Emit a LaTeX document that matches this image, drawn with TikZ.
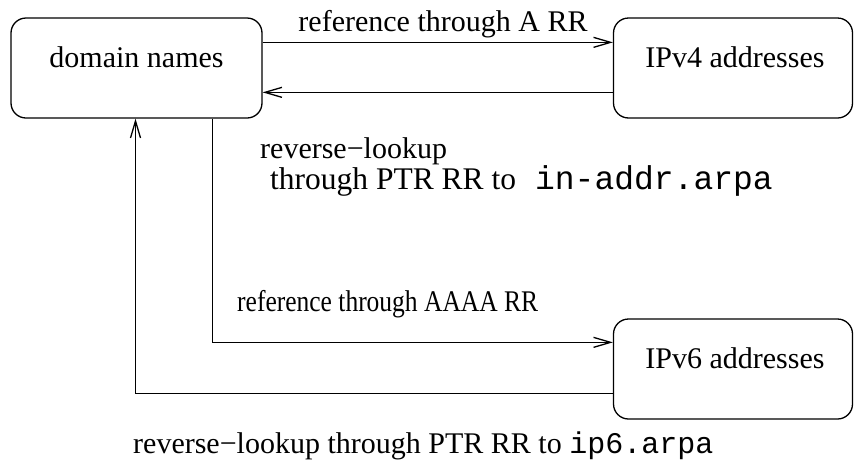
\documentclass[tikz,border=0pt]{standalone}
\usepackage{fontspec}
\setmainfont{Liberation Serif}
\setmonofont{Liberation Mono}
\usetikzlibrary{arrows.meta}

\begin{document}
\begin{tikzpicture}[x=1pt,y=-1pt,
  every node/.style={font=\fontsize{30}{34}\selectfont},
  box/.style={draw, line width=1.3pt, rounded corners=15pt, inner sep=0pt,
              text height=49pt, text depth=51pt},
  link/.style={line width=1.3pt},
  arr/.style={link, -{Straight Barb[length=17pt,width=10pt,line width=1.3pt]}},
  lbl/.style={inner sep=0pt, anchor=base west}]
  \useasboundingbox (0,0) rectangle (854,464);

  % the three kinds of records
  \node[box, minimum width=251pt] (dn) at (136.5,68) {domain names};
  \node[box, minimum width=239pt] (v4) at (733,68) {\hspace*{4pt}IPv4 addresses};
  \node[box, minimum width=239pt] (v6) at (733,369) {\hspace*{4pt}IPv6 addresses};

  % forward and reverse links between names and IPv4
  \draw[arr] ([yshift=-25pt]dn.north east) -- ([yshift=-25pt]v4.north west);
  \draw[arr] ([yshift=-75pt]v4.north west) -- ([yshift=-75pt]dn.north east);

  % forward and reverse links between names and IPv6
  \draw[arr] ([xshift=76pt]dn.south) |- ([yshift=-24pt]v6.north west);
  \draw[arr] ([yshift=-75pt]v6.north west) -| ([xshift=-1pt]dn.south);

  % labels
  \node[inner sep=0pt, anchor=base] (la) at (443,31) {reference through A RR};
  \node[lbl] (lb) at (260,158) {reverse−lookup};
  \node[lbl] (lc) at (270,189)
    {\fontsize{31.5}{34}\selectfont through PTR RR to\hspace{19pt}%
     \fontsize{33}{34}\selectfont\texttt{in-addr.arpa}};
  \node[lbl] (ld) at (237,311) {\scalebox{0.85}[1]{reference through AAAA RR}};
  \node[lbl] (le) at (133,453) {reverse−lookup through PTR RR to \texttt{ip6.arpa}};
\end{tikzpicture}
\end{document}
